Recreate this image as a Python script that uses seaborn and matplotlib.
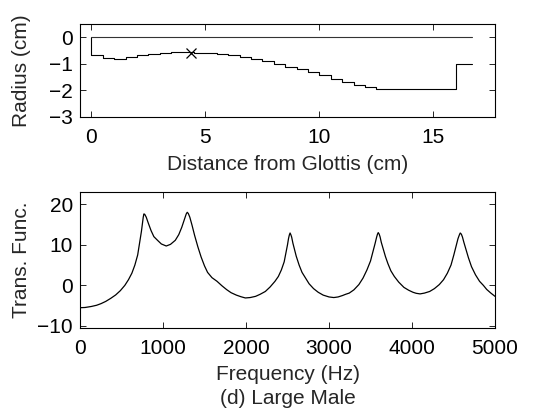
import numpy as np
import pandas as pd
import matplotlib
matplotlib.use("Agg")
import matplotlib.pyplot as plt
import seaborn as sns

# ---- Data: vocal tract area profile (radius per section) ----
section_lengths = [0.5] * 25 + [3.5, 0.7]
section_radii = [-0.68, -0.77, -0.80, -0.74, -0.68, -0.63, -0.59, -0.57, -0.57,
                 -0.58, -0.59, -0.62, -0.67, -0.74, -0.81, -0.90, -1.00, -1.10,
                 -1.20, -1.32, -1.43, -1.56, -1.68, -1.79, -1.87, -1.94, -1.00]
constriction_x = [4.37]
constriction_r = [-0.58]

# ---- Data: transfer function ----
freq_hz = [0, 60, 136, 200, 253, 310, 370, 430, 486, 540, 584, 625, 661, 695, 720,
           740, 751, 762, 770, 780, 798, 820, 856, 890, 934, 980, 1039, 1090, 1148,
           1190, 1226, 1250, 1265, 1280, 1292, 1305, 1323, 1350, 1381, 1420, 1459,
           1500, 1537, 1590, 1651, 1710, 1767, 1820, 1884, 1940, 1992, 2050, 2116,
           2170, 2233, 2290, 2349, 2390, 2426, 2460, 2484, 2500, 2512, 2522, 2531,
           2540, 2550, 2565, 2581, 2605, 2640, 2675, 2717, 2760, 2814, 2870, 2930,
           3000, 3058, 3110, 3163, 3200, 3244, 3300, 3360, 3410, 3457, 3500, 3535,
           3555, 3574, 3584, 3593, 3605, 3616, 3630, 3651, 3680, 3709, 3745, 3787,
           3840, 3903, 3960, 4012, 4050, 4097, 4150, 4213, 4270, 4329, 4380, 4426,
           4470, 4504, 4530, 4554, 4570, 4581, 4595, 4608, 4625, 4647, 4680, 4717,
           4765, 4814, 4860, 4900, 4950, 5000]
trans_func = [-5.5, -5.45, -5.2, -4.9, -4.5, -3.95, -3.2, -2.35, -1.3, 0.0, 1.4, 3.0,
              5.0, 7.5, 10.7, 13.3, 15.1, 16.8, 17.6, 17.5, 16.8, 15.5, 13.5, 12.0,
              11.1, 10.2, 9.7, 10.1, 11.1, 12.5, 14.3, 15.8, 16.8, 17.6, 18.0, 17.7,
              16.8, 14.8, 12.3, 9.5, 7.0, 4.8, 3.2, 1.9, 1.0, -0.1, -1.05, -1.8, -2.4,
              -2.8, -3.1, -3.0, -2.7, -2.2, -1.5, -0.4, 1.0, 2.2, 3.8, 5.8, 8.3, 10.0,
              11.5, 12.4, 12.9, 12.5, 11.9, 10.4, 9.1, 7.2, 5.0, 3.2, 1.8, 0.4, -0.8,
              -1.7, -2.4, -2.85, -3.0, -2.85, -2.5, -2.2, -1.9, -1.1, 0.2, 1.8, 3.8,
              6.0, 8.7, 10.3, 11.9, 12.6, 13.0, 12.6, 11.9, 10.6, 9.1, 7.1, 5.4, 3.6,
              2.2, 0.8, -0.5, -1.2, -1.7, -1.95, -2.1, -1.9, -1.5, -0.8, 0.2, 1.4, 3.0,
              5.0, 7.5, 9.6, 11.5, 12.4, 12.9, 12.6, 11.9, 10.6, 9.1, 6.8, 4.6, 2.6,
              1.0, 0.0, -1.0, -1.9, -2.7]

sns.set_style("ticks")
plt.rcParams['font.family'] = ['Liberation Sans', 'DejaVu Sans']
plt.rcParams['axes.unicode_minus'] = True

FS = 15
fig = plt.figure(figsize=(5.42, 4.11), dpi=100)
W, H = 542, 411
ax1 = fig.add_axes([80 / W, 1 - 117 / H, 415 / W, 93 / H])
ax2 = fig.add_axes([80 / W, 1 - 328 / H, 415 / W, 136 / H])

# profile
edges = np.concatenate([[0.0], np.cumsum(section_lengths)])
prof = pd.DataFrame({"x": edges, "r": section_radii + [section_radii[-1]]})
top = pd.DataFrame({"x": [edges[0], edges[-1]], "r": [0.0, 0.0]})
ax1.plot([edges[0], edges[0]], [0.0, section_radii[0]], color="black", lw=0.8)
sns.lineplot(data=prof, x="x", y="r", ax=ax1, color="black", lw=0.8,
             drawstyle="steps-post", estimator=None, sort=False)
sns.lineplot(data=top, x="x", y="r", ax=ax1, color="#333333", lw=0.8,
             estimator=None, sort=False)
ax1.plot(constriction_x, constriction_r, marker="x", color="black", ms=7,
         mew=0.9, ls="none")
ax1.set_xlim(-0.5, edges[-1] + 1)
ax1.set_ylim(-3, 0.5)
ax1.set_yticks([0, -1, -2, -3])
ax1.set_xticks([0, 5, 10, 15])
ax1.set_xlabel("Distance from Glottis (cm)", fontsize=FS, labelpad=6)
ax1.set_ylabel("Radius (cm)", fontsize=FS)

# transfer function
tf = pd.DataFrame({"f": freq_hz, "t": trans_func})
sns.lineplot(data=tf, x="f", y="t", ax=ax2, color="black", lw=0.9,
             estimator=None, sort=False)
ax2.set_xlim(0, 5000)
ax2.set_ylim(-10.5, 23)
ax2.set_xticks([0, 1000, 2000, 3000, 4000, 5000])
ax2.set_yticks([-10, 0, 10, 20])
ax2.set_xlabel("Frequency (Hz)\n(d) Large Male", fontsize=FS, labelpad=5,
               linespacing=1.35)
ax2.set_ylabel("Trans. Func.", fontsize=FS)

for ax in (ax1, ax2):
    for s in ax.spines.values():
        s.set_visible(True)
        s.set_linewidth(0.8)
        s.set_color("black")
    ax.tick_params(direction="in", top=True, right=True, length=4, width=0.6,
                   labelsize=FS, colors="black")
    ax.tick_params(axis="x", pad=8)
    ax.tick_params(axis="y", pad=5)
    ax.yaxis.set_label_coords(-0.118, 0.5)

fig.savefig("out.png", dpi=100)
